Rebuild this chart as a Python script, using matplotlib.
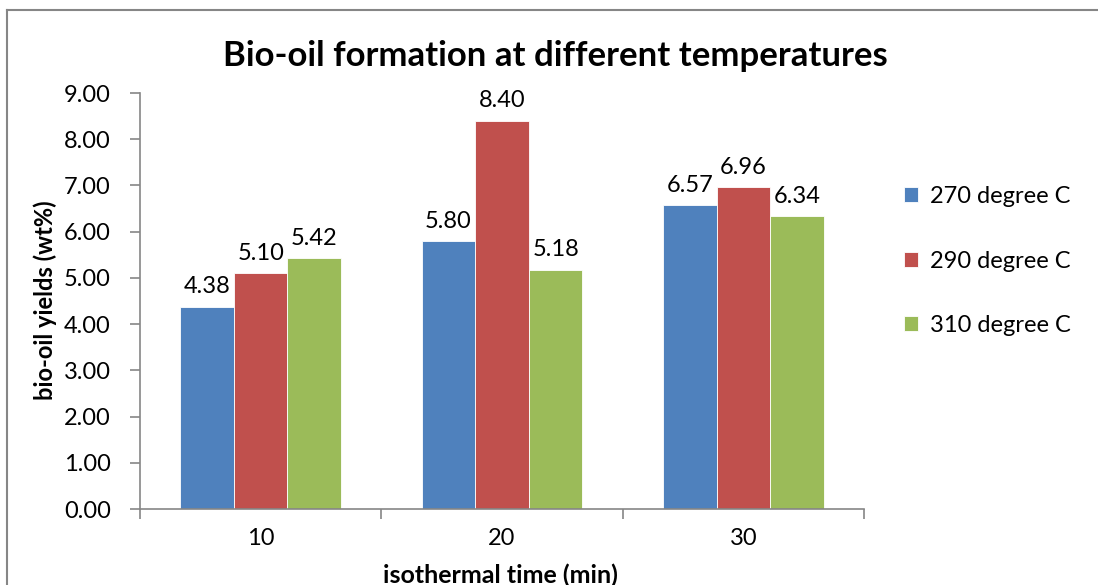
import matplotlib
matplotlib.use("Agg")
import matplotlib.pyplot as plt
import numpy as np
from matplotlib.lines import Line2D

categories = ["10", "20", "30"]
series_names = ["270 degree C", "290 degree C", "310 degree C"]
s270 = [4.38, 5.80, 6.57]
s290 = [5.10, 8.40, 6.96]
s310 = [5.42, 5.18, 6.34]
colors = ["#4F81BD", "#C0504D", "#9BBB59"]
yticks = [0, 1, 2, 3, 4, 5, 6, 7, 8, 9]

plt.rcParams['font.family'] = ['Lato', 'DejaVu Sans']

fig = plt.figure(figsize=(10.98, 5.85), dpi=100)
W, H = 1098, 585
ax = fig.add_axes([140 / W, 1 - 509 / H, (864 - 140) / W, (509 - 93) / H])

x = np.arange(len(categories))
bw = 1 / 4.5
for i, (vals, name, c) in enumerate(zip([s270, s290, s310], series_names, colors)):
    bars = ax.bar(x + (i - 1) * bw, vals, width=bw, color=c, label=name,
                  edgecolor="#ffffff", linewidth=0.6, zorder=2)
    for b, v in zip(bars, vals):
        ax.text(b.get_x() + b.get_width() / 2, v + 0.2, f"{v:.2f}",
                ha="center", va="bottom", fontsize=17)

ax.set_xlim(-0.5, 2.5)
ax.set_ylim(0, 9)
ax.set_yticks(yticks)
ax.set_yticklabels([f"{t:.2f}" for t in yticks], fontsize=17)
ax.set_xticks(x)
ax.set_xticklabels(categories, fontsize=17)
ax.set_xticks([-0.5, 0.5, 1.5, 2.5], minor=True)
ax.tick_params(axis="x", which="major", length=0, pad=14)
ax.tick_params(axis="x", which="minor", length=7, width=1.2, color="#868686", direction="out")
ax.tick_params(axis="y", length=7, width=1.2, color="#868686", direction="out", pad=14)
for s in ["top", "right"]:
    ax.spines[s].set_visible(False)
for s in ["left", "bottom"]:
    ax.spines[s].set_color("#868686")
    ax.spines[s].set_linewidth(1.2)

fig.text(500 / W, 1 - 575 / H, "isothermal time (min)", ha="center", va="center",
         fontsize=18, fontweight="bold")
fig.text(45 / W, 1 - 300 / H, "bio-oil yields (wt%)", ha="center", va="center",
         rotation=90, fontsize=17, fontweight="bold")

fig.text(555 / W, 1 - 56 / H, "Bio-oil formation at different temperatures",
         ha="center", va="center", fontsize=25, fontweight="bold")

ax.legend(loc="center left", bbox_to_anchor=(883 / W, 1 - 261 / H),
          bbox_transform=fig.transFigure, frameon=False, fontsize=17,
          handlelength=0.6, handleheight=0.6, handletextpad=0.5, labelspacing=1.85)

fig.add_artist(Line2D([7 / W, 7 / W], [0, 1 - 10 / H], transform=fig.transFigure,
                      color="#868686", linewidth=1.5))
fig.add_artist(Line2D([7 / W, 1], [1 - 10 / H, 1 - 10 / H], transform=fig.transFigure,
                      color="#868686", linewidth=1.5))

fig.savefig("out.png", dpi=100)
